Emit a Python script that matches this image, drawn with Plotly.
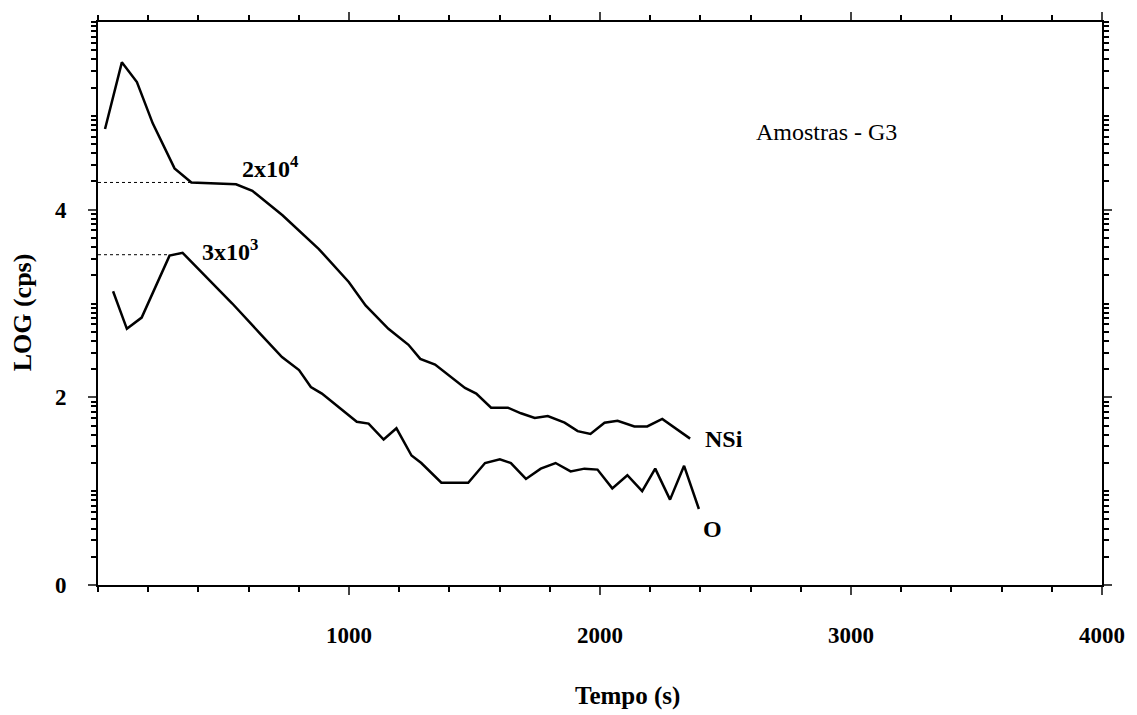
import numpy as np
import plotly.graph_objects as go

# NSi series (time in s, log10 cps)
nsi_t = [28, 95, 155, 218, 305, 372, 550, 615, 735, 880, 999, 1066, 1157, 1237, 1284,
         1343, 1462, 1507, 1566, 1633, 1685, 1740, 1792, 1859, 1911, 1962, 2018, 2070,
         2137, 2188, 2248, 2299, 2359]
nsi_log = [4.86, 5.57, 5.36, 4.92, 4.44, 4.29, 4.27, 4.20, 3.94, 3.58, 3.23, 2.98, 2.73,
           2.56, 2.41, 2.35, 2.10, 2.04, 1.89, 1.89, 1.83, 1.78, 1.80, 1.73, 1.64, 1.61,
           1.73, 1.75, 1.69, 1.69, 1.77, 1.67, 1.56]

# O series
o_t = [60, 115, 174, 285, 337, 456, 535, 642, 733, 801, 848, 892, 971, 1031, 1078, 1138,
       1189, 1249, 1288, 1368, 1475, 1542, 1601, 1645, 1705, 1764, 1823, 1883, 1938, 1990,
       2049, 2109, 2168, 2220, 2279, 2335, 2394]
o_log = [3.13, 2.73, 2.85, 3.51, 3.54, 3.22, 3.00, 2.69, 2.43, 2.29, 2.11, 2.04, 1.87, 1.74,
         1.72, 1.55, 1.67, 1.38, 1.30, 1.09, 1.09, 1.30, 1.34, 1.30, 1.13, 1.24, 1.30, 1.21,
         1.24, 1.23, 1.03, 1.17, 1.00, 1.24, 0.91, 1.27, 0.81]

# reference levels (log10 of 2x10^4 and 3x10^3 as drawn)
ref_levels = [4.29, 3.52]
ref_ends = [372, 285]
ref_labels = ["2x10<sup>4</sup>", "3x10<sup>3</sup>"]
ref_label_pos = [(686, 4.46), (527, 3.57)]

x_tickvals = [1000, 2000, 3000, 4000]
y_tickvals = [0, 2, 4]
y_ticktext = ["0", "2", "4"]

FONT = "Liberation Serif, Times New Roman, serif"

fig = go.Figure()
for lvl, xe in zip(ref_levels, ref_ends):
    fig.add_trace(go.Scatter(x=[0, xe], y=[lvl, lvl], mode="lines",
                             line=dict(color="black", width=1, dash="dot"),
                             showlegend=False, hoverinfo="skip"))
fig.add_trace(go.Scatter(x=nsi_t, y=nsi_log, mode="lines", name="NSi",
                         line=dict(color="black", width=2.5), showlegend=False))
fig.add_trace(go.Scatter(x=o_t, y=o_log, mode="lines", name="O",
                         line=dict(color="black", width=2.5), showlegend=False))

for txt, (xx, yy) in zip(ref_labels, ref_label_pos):
    fig.add_annotation(x=xx, y=yy, text="<b>" + txt + "</b>", showarrow=False,
                       font=dict(family=FONT, size=24, color="black"))
fig.add_annotation(x=2494, y=1.56, text="<b>NSi</b>", showarrow=False,
                   font=dict(family=FONT, size=24, color="black"))
fig.add_annotation(x=2450, y=0.60, text="<b>O</b>", showarrow=False,
                   font=dict(family=FONT, size=24, color="black"))
fig.add_annotation(x=2902, y=4.83, text="Amostras - G3", showarrow=False,
                   font=dict(family=FONT, size=24, color="black"))

# axis titles
fig.add_annotation(xref="paper", yref="paper", x=-0.0743, y=0.485,
                   xanchor="center", yanchor="middle",
                   text="<b>LOG (cps)</b>", textangle=-90, showarrow=False,
                   font=dict(family=FONT, size=26, color="black"))
fig.add_annotation(xref="paper", yref="paper", x=0.527, y=-0.1975,
                   xanchor="center", yanchor="middle",
                   text="<b>Tempo (s)</b>", showarrow=False,
                   font=dict(family=FONT, size=25, color="black"))

# log-decade minor ticks (odd decades + 2..9 subdivisions)
minor_y = sorted([n + np.log10(k) for n in range(6) for k in range(2, 10)] + [1, 3, 5, 6])

fig.update_layout(
    width=1137, height=715,
    margin=dict(l=98, r=28, t=18, b=130),
    paper_bgcolor="white", plot_bgcolor="white",
    font=dict(family=FONT, color="black"),
    xaxis=dict(range=[0, 4000], tickvals=x_tickvals, ticks="outside", ticklen=8,
               tickwidth=1.5, showgrid=False, zeroline=False, showline=True,
               linecolor="black", linewidth=2, mirror="allticks",
               tickfont=dict(family=FONT, size=23, color="black", weight="bold"),
               ticklabelstandoff=20,
               minor=dict(dtick=200, ticks="outside", ticklen=5, tickcolor="black")),
    yaxis=dict(range=[0, 6], tickvals=y_tickvals, ticktext=y_ticktext, ticks="outside",
               ticklen=8, tickwidth=1.5, showgrid=False, zeroline=False, showline=True,
               linecolor="black", linewidth=2, mirror="allticks",
               tickfont=dict(family=FONT, size=23, color="black", weight="bold"),
               ticklabelstandoff=17,
               minor=dict(tickvals=minor_y, ticks="outside", ticklen=5, tickcolor="black")),
)

fig.write_html("out.html")
